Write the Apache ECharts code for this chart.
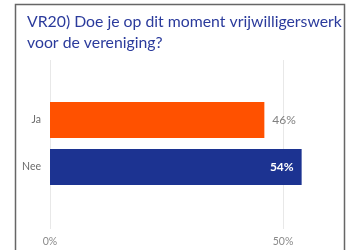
<!DOCTYPE html>
<html>
<head>
<meta charset="utf-8">
<script src="https://cdn.jsdelivr.net/npm/echarts@6/dist/echarts.min.js"></script>
<style>
  html, body { margin: 0; padding: 0; background: #fff; }
  #chart { width: 349px; height: 250px; }
</style>
</head>
<body>
<div id="chart"></div>
<script>
// data
var categories = ['Ja', 'Nee'];
var values = [46, 54];
var barColors = ['#ff5100', '#1c3391'];
var tickValues = [0, 50];

var chart = echarts.init(document.getElementById('chart'));

var barData = values.map(function (v, i) {
  var inside = i === 1;
  return {
    value: v,
    itemStyle: { color: barColors[i] },
    label: inside
      ? { position: 'insideRight', distance: 8, color: '#fff', fontWeight: 'bold' }
      : { position: 'right', distance: 8, color: '#808080' }
  };
});

chart.setOption({
  animation: false,
  title: {
    text: 'VR20) Doe je op dit moment vrijwilligerswerk\nvoor de vereniging?',
    left: 22,
    top: 6,
    textStyle: {
      fontFamily: 'Lato',
      fontSize: 15.8,
      fontWeight: 'normal',
      color: '#2b3b9c',
      lineHeight: 21
    }
  },
  graphic: [{
    type: 'polyline',
    shape: { points: [[15.5, 250], [15.5, 4.5], [344.5, 4.5], [344.5, 250]] },
    style: { stroke: '#666', lineWidth: 1.5, fill: null },
    silent: true
  }],
  grid: [
    { left: 50, top: 96.5, width: 466, height: 94, outerBoundsMode: 'none' },
    { left: 50, top: 60, width: 466, height: 169, outerBoundsMode: 'none' }
  ],
  xAxis: [
    {
      gridIndex: 0, type: 'value', min: 0, max: 100, show: false
    },
    {
      gridIndex: 1, type: 'value', min: 0, max: 100, interval: 50,
      axisLine: { show: false },
      axisTick: { show: false },
      splitLine: { lineStyle: { color: '#e8e8e8', width: 1 } },
      axisLabel: {
        margin: 7,
        color: '#8a8a8a',
        fontFamily: 'Lato',
        fontSize: 10.5,
        formatter: function (v) { return tickValues.indexOf(v) >= 0 ? v + '%' : ''; }
      }
    }
  ],
  yAxis: [
    {
      gridIndex: 0, type: 'category', data: categories, inverse: true,
      axisLine: { show: false },
      axisTick: { show: false },
      axisLabel: { margin: 9, color: '#6b6b6b', fontFamily: 'Lato', fontSize: 10.5 }
    },
    {
      gridIndex: 1, type: 'category', data: [], show: false
    }
  ],
  series: [{
    type: 'bar',
    xAxisIndex: 0,
    yAxisIndex: 0,
    barWidth: 36,
    data: barData,
    label: {
      show: true,
      fontFamily: 'Lato',
      fontSize: 12,
      formatter: '{c}%'
    }
  }]
});
</script>
</body>
</html>
